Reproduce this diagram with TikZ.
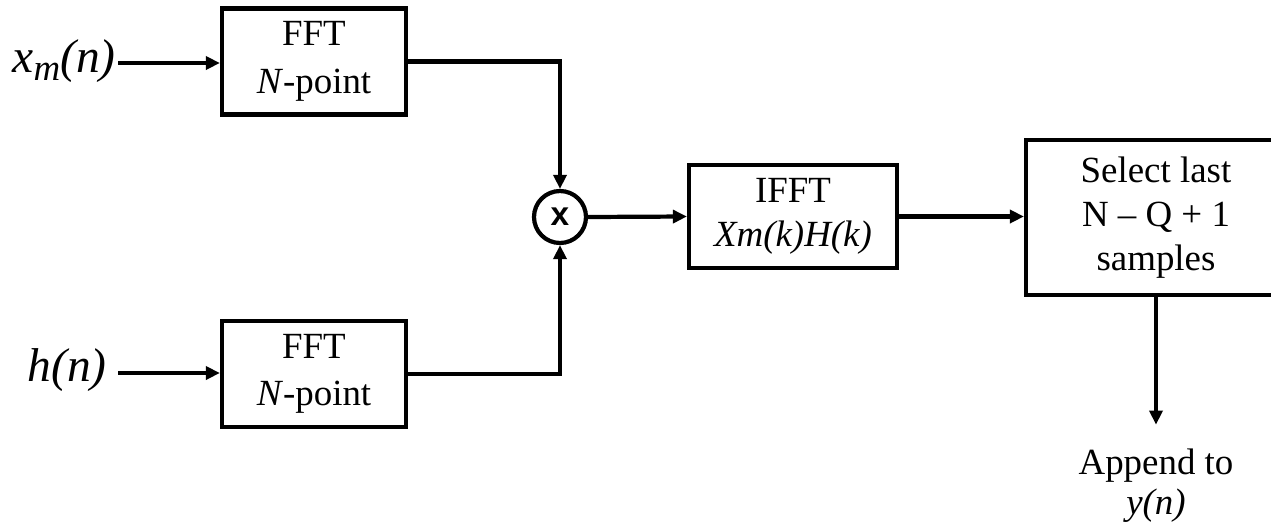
\documentclass[tikz,border=0pt]{standalone}
\usepackage{fontspec}
\setmainfont{Liberation Serif}
\setsansfont{Liberation Sans}
\usepackage{tikz}
\usetikzlibrary{arrows.meta, positioning, calc}

\begin{document}
\begin{tikzpicture}[
  box/.style     = {rectangle, draw, line width=2.4pt, align=center,
                    font=\rmfamily\fontsize{21}{25}\selectfont},
  fftbox/.style  = {box, minimum width=3.68cm, minimum height=2.12cm,
                    font=\rmfamily\fontsize{21}{27}\selectfont},
  mulnode/.style = {circle, draw, line width=2.4pt, minimum size=1.04cm,
                    inner sep=0pt, font=\sffamily\bfseries\fontsize{19}{22}\selectfont},
  sig/.style     = {font=\rmfamily\itshape\fontsize{27}{30}\selectfont, inner sep=0pt},
  arrow/.style   = {-{Triangle[length=0.28cm, width=0.26cm]}, line width=2.4pt}
]
\useasboundingbox (0,0) rectangle (25.42,-10.44);

%% FFT stages
\node[fftbox] (fftx) at (6.28,-1.23) {FFT\\\textit{N}-point};
\node[fftbox] (ffth) at (6.28,-7.48) {FFT\\\textit{N}-point};

%% Product and IFFT
\node[mulnode] (mult) at (11.20,-4.34) {x};
\node[box, minimum width=4.16cm, minimum height=2.06cm] (ifft) at (15.86,-4.33)
  {IFFT\\\textit{Xm(k)H(k)}};

%% Selection
\node[box, minimum width=5.2cm, minimum height=3.1cm] (select) at (23.12,-4.35)
  {Select last\\N -- Q + 1\\samples};
\node[font=\rmfamily\fontsize{21}{23}\selectfont, align=center, anchor=north] (append)
  at (23.12,-8.85) {Append to\\\textit{y(n)}};

%% Inputs
\node[sig, anchor=east] (xin) at (2.32,-1.22)
  {x\raisebox{-0.16em}{\fontsize{21}{21}\selectfont m}(n)};
\node[sig, anchor=east] (hin) at (2.14,-7.40) {h(n)};
\coordinate (xstart) at (2.36,-1.26);
\coordinate (hstart) at (2.36,-7.46);

%% Arrows
\draw[arrow] (xstart) -- (xstart -| fftx.west);
\draw[arrow] (hstart) -- (hstart -| ffth.west);
\draw[arrow] (fftx.east) -| (mult.north);
\draw[arrow] (ffth.east) -| (mult.south);
\draw[arrow] (mult.east) -- (ifft.west);
\draw[arrow] (ifft.east) -- (ifft.east -| select.west);
\draw[arrow] (select.south) -- ++(0,-2.55);

\end{tikzpicture}
\end{document}
